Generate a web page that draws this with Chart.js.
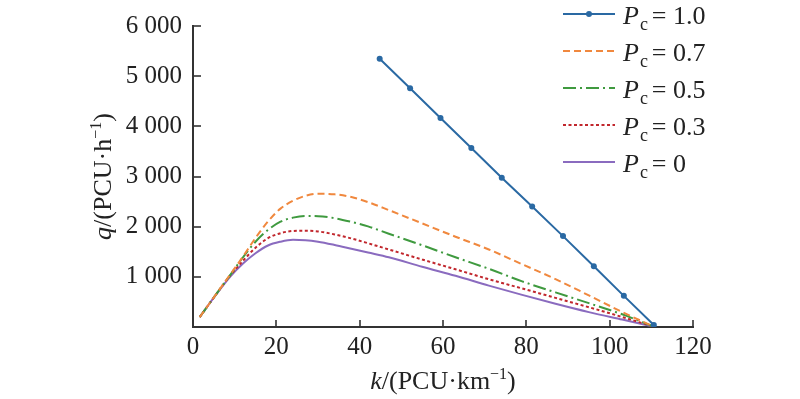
<!DOCTYPE html>
<html><head><meta charset="utf-8">
<script src="https://cdn.jsdelivr.net/npm/chart.js@4"></script>
<style>html,body{margin:0;padding:0;background:#fff}#wrap{width:800px;height:399px;position:relative}</style>
</head><body><div id="wrap"><canvas id="c"></canvas></div>
<script>
// ---- data ----
const kCurve = [1.6, 5, 9, 12, 15, 18, 21, 24, 27, 30, 34, 38, 42, 47, 55, 63, 71, 79, 87, 95, 103, 110.5];
const qPc07 = [196, 590, 1054, 1405, 1775, 2105, 2360, 2517, 2615, 2655, 2645, 2590, 2490, 2330, 2065, 1800, 1545, 1250, 955, 630, 300, 10];
const qPc05 = [196, 590, 1045, 1390, 1700, 1935, 2100, 2180, 2215, 2210, 2170, 2095, 2005, 1860, 1630, 1390, 1160, 910, 690, 475, 253, 10];
const qPc03 = [196, 588, 1035, 1320, 1580, 1770, 1870, 1915, 1920, 1905, 1845, 1765, 1670, 1545, 1345, 1150, 952, 768, 580, 395, 200, 10];
const qPc00 = [196, 585, 1010, 1265, 1470, 1625, 1700, 1738, 1730, 1700, 1635, 1560, 1485, 1390, 1200, 1020, 825, 640, 462, 296, 148, 10];
const kPc10 = [44.8, 52.1, 59.4, 66.8, 74.1, 81.4, 88.8, 96.2, 103.4, 110.6];
const qPc10 = [5347, 4759, 4165, 3569, 2975, 2400, 1812, 1210, 621, 40];
const legendValues = ['1.0', '0.7', '0.5', '0.3', '0'];
const xTickValues = [0, 20, 40, 60, 80, 100, 120];
const yTickValues = [1000, 2000, 3000, 4000, 5000, 6000];
const yTickLabels = ['1 000', '2 000', '3 000', '4 000', '5 000', '6 000'];

const SERIF = '"Liberation Serif", "Times New Roman", serif';
const AXIS = '#333333';
const styles = [
  {color: '#2a69a3', dash: [], pr: 3},
  {color: '#f0883e', dash: [7, 4], pr: 0},
  {color: '#3f9a3f', dash: [13, 4, 2, 4], pr: 0},
  {color: '#c1272d', dash: [3, 2.5], pr: 0},
  {color: '#8a6bbf', dash: [], pr: 0}
];
const seriesK = [kPc10, kCurve, kCurve, kCurve, kCurve];
const seriesQ = [qPc10, qPc07, qPc05, qPc03, qPc00];

const datasets = seriesQ.map((q, i) => ({
  label: 'Pc = ' + legendValues[i],
  data: seriesK[i].map((k, j) => ({x: k, y: q[j]})),
  borderColor: styles[i].color,
  backgroundColor: styles[i].color,
  pointBackgroundColor: styles[i].color,
  pointBorderWidth: 0,
  borderWidth: 2,
  borderDash: styles[i].dash,
  pointRadius: styles[i].pr,
  pointHoverRadius: styles[i].pr,
  fill: false,
  cubicInterpolationMode: i === 0 ? 'default' : 'monotone',
  tension: 0
}));

function drawRich(ctx, parts, x, y, align) {
  let w = 0;
  parts.forEach(p => { ctx.font = p.font; p.w = ctx.measureText(p.t).width; w += p.w; });
  let cx = align === 'center' ? x - w / 2 : x;
  parts.forEach(p => {
    ctx.font = p.font;
    ctx.fillText(p.t, cx, y + (p.dy || 0));
    cx += p.w;
  });
}

const decorPlugin = {
  id: 'decor',
  afterDraw(chart) {
    const {ctx, chartArea, scales} = chart;
    const {left, right, top, bottom} = chartArea;
    ctx.save();
    // inward tick marks
    ctx.strokeStyle = AXIS; ctx.lineWidth = 1.6; ctx.setLineDash([]);
    xTickValues.forEach(v => {
      if (v === 0) return;
      const px = Math.round(scales.x.getPixelForValue(v));
      ctx.beginPath(); ctx.moveTo(px, bottom); ctx.lineTo(px, bottom - 7); ctx.stroke();
    });
    yTickValues.forEach(v => {
      const py = Math.round(scales.y.getPixelForValue(v));
      ctx.beginPath(); ctx.moveTo(left, py); ctx.lineTo(left + 8, py); ctx.stroke();
    });
    ctx.fillStyle = '#222';
    ctx.textBaseline = 'alphabetic';
    ctx.textAlign = 'left';
    // x title
    const big = '26px ' + SERIF, ital = 'italic 26px ' + SERIF, small = '16px ' + SERIF;
    drawRich(ctx, [
      {t: 'k', font: ital}, {t: '/(PCU·km', font: big}, {t: '−1', font: small, dy: -10}, {t: ')', font: big}
    ], (left + right) / 2, 389, 'center');
    // y title (rotated)
    ctx.save();
    ctx.translate(111, (top + bottom) / 2);
    ctx.rotate(-Math.PI / 2);
    drawRich(ctx, [
      {t: 'q', font: ital}, {t: '/(PCU·h', font: big}, {t: '−1', font: small, dy: -10}, {t: ')', font: big}
    ], 0, 0, 'center');
    ctx.restore();
    // legend
    const lx0 = 563, lx1 = 615, tx = 623, row0 = 14, rowH = 37;
    legendValues.forEach((v, i) => {
      const y = row0 + i * rowH;
      const st = styles[i];
      ctx.strokeStyle = st.color; ctx.lineWidth = 2; ctx.setLineDash(st.dash);
      ctx.beginPath(); ctx.moveTo(lx0, y); ctx.lineTo(lx1, y); ctx.stroke();
      ctx.setLineDash([]);
      if (st.pr) {
        ctx.fillStyle = st.color;
        ctx.beginPath(); ctx.arc((lx0 + lx1) / 2, y, st.pr, 0, Math.PI * 2); ctx.fill();
      }
      ctx.fillStyle = '#222';
      ctx.font = ital; const pw = ctx.measureText('P').width;
      ctx.fillText('P', tx, y + 10);
      ctx.font = '18px ' + SERIF; const cw = ctx.measureText('c').width;
      ctx.fillText('c', tx + pw + 1, y + 16);
      ctx.font = big;
      ctx.fillText('= ' + v, tx + pw + cw + 5, y + 10);
    });
    ctx.restore();
  }
};

new Chart(document.getElementById('c'), {
  type: 'line',
  data: {datasets},
  plugins: [decorPlugin],
  options: {
    responsive: true,
    maintainAspectRatio: false,
    animation: false,
    layout: {padding: {left: 0, right: 107, top: 21, bottom: 0}},
    plugins: {legend: {display: false}, tooltip: {enabled: false}, title: {display: false}},
    scales: {
      x: {
        type: 'linear', min: 0, max: 120,
        grid: {display: false, drawTicks: false},
        border: {display: true, color: AXIS, width: 2},
        afterBuildTicks: s => { s.ticks = xTickValues.map(v => ({value: v})); },
        ticks: {color: '#222', font: {family: SERIF, size: 25}, padding: 5, maxRotation: 0, autoSkip: false},
        afterFit: s => { s.height = 72; }
      },
      y: {
        type: 'linear', min: 0, max: 6000,
        grid: {display: false, drawTicks: false},
        border: {display: true, color: AXIS, width: 2},
        afterBuildTicks: s => { s.ticks = yTickValues.map(v => ({value: v})); },
        ticks: {color: '#222', font: {family: SERIF, size: 25}, padding: 11, autoSkip: false,
          callback: v => { const i = yTickValues.indexOf(v); return i >= 0 ? yTickLabels[i] : ''; }},
        afterFit: s => { s.width = 193; }
      }
    }
  }
});
</script>
</body></html>
